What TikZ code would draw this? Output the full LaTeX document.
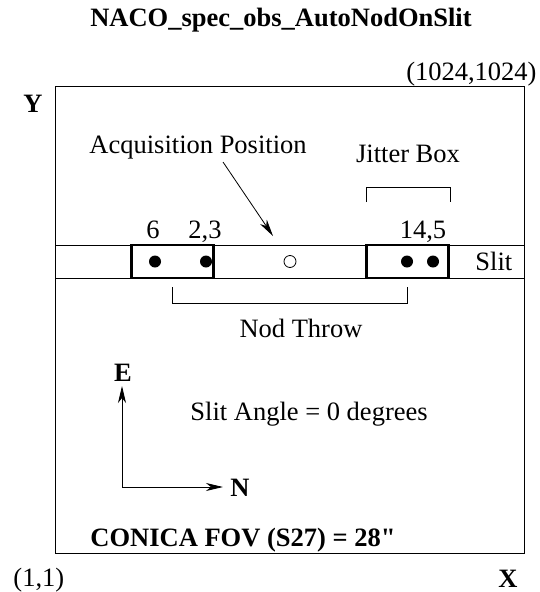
\documentclass[tikz,border=0pt]{standalone}
\usepackage{fontspec}
\setmainfont{Liberation Serif}[Ligatures=TeXOff]
\usetikzlibrary{positioning,calc,arrows.meta}
\tikzset{
  lbl/.style={inner sep=0pt, anchor=base, font=\fontsize{26.5}{30}\selectfont},
  boldlbl/.style={lbl, font=\fontsize{26.5}{30}\selectfont\bfseries},
  nodbox/.style={draw, line width=2.6pt, minimum width=82pt, minimum height=33pt, inner sep=0pt, outer sep=0pt},
  spot/.style={circle, fill=black, minimum size=12pt, inner sep=0pt},
  hollowspot/.style={circle, draw, line width=0.8pt, minimum size=12pt, inner sep=0pt},
  pointer/.style={-{Stealth[length=17pt, width=8pt, inset=5pt]}, line width=0.8pt}
}

\begin{document}
\begin{tikzpicture}[x=1pt, y=-1pt, line width=0.9pt]
  \useasboundingbox (0,0) rectangle (539,592);

  \node (title) [boldlbl] at (281,26) {NACO\_spec\_obs\_AutoNodOnSlit};

  \node (fov) [draw, minimum width=469pt, minimum height=467pt, inner sep=0pt, outer sep=0pt] at (289.5,319.5) {};
  \node (topcorner) [lbl, anchor=base east] at (537,80) {(1024,1024)};
  \node (botcorner) [lbl, anchor=base west] at (13,586) {(1,1)};
  \node (yaxis) [boldlbl] at (33,112) {Y};
  \node (xaxis) [boldlbl] at (508,587) {X};

  % slit with the two nod positions
  \node (slit) [draw, minimum width=469pt, minimum height=33pt, inner sep=0pt, outer sep=0pt] at (289.5,261.5) {};
  \node (slitlbl) [lbl, anchor=base west] at (475,270) {Slit};
  \node (lbox) [nodbox] at (172.5,261.5) {};
  \node (rbox) [nodbox] at (407.5,261.5) {};
  \node (p6) [spot] at (155,261.5) {};
  \node (p23) [spot] at (206,261.5) {};
  \node (p1) [spot] at (407,261.5) {};
  \node (p45) [spot] at (433,261.5) {};
  \node (acqpos) [hollowspot] at (290,261.5) {};
  \node (lbl6) [lbl] at (153,238) {6};
  \node (lbl23) [lbl] at (205,238) {2,3};
  \node (lbl145) [lbl] at (423,238) {14,5};

  \node (acq) [lbl, anchor=base west] at (89,153) {Acquisition Position};
  \coordinate (acqstart) at (223,162);
  \coordinate (acqend) at (273,236);
  \draw[pointer] (acqstart) -- (acqend);

  \node (jitter) [lbl] at (408,162) {Jitter Box};
  \draw (rbox.north west) ++(0,-43) -- ++(0,-15) -- ++(84,0) -- ++(0,15);

  \draw (lbox.south) ++(0,9) -- ++(0,16) -| ($(rbox.south)+(0,9)$);
  \node (nodthrow) [lbl] at (301,337) {Nod Throw};

  \node (angle) [lbl, anchor=base west] at (190,420) {Slit Angle = 0 degrees};

  % sky orientation
  \coordinate (origin) at (122,487);
  \coordinate (etip) at (122,386);
  \coordinate (ntip) at (223,487);
  \draw[pointer] (origin) -- (etip);
  \draw[pointer] (origin) -- (ntip);
  \node (east) [boldlbl] at (123,381) {E};
  \node (north) [boldlbl] at (240,496) {N};

  \node (fovlbl) [boldlbl, anchor=base west] at (90,546) {CONICA FOV (S27) = 28"};
\end{tikzpicture}
\end{document}
